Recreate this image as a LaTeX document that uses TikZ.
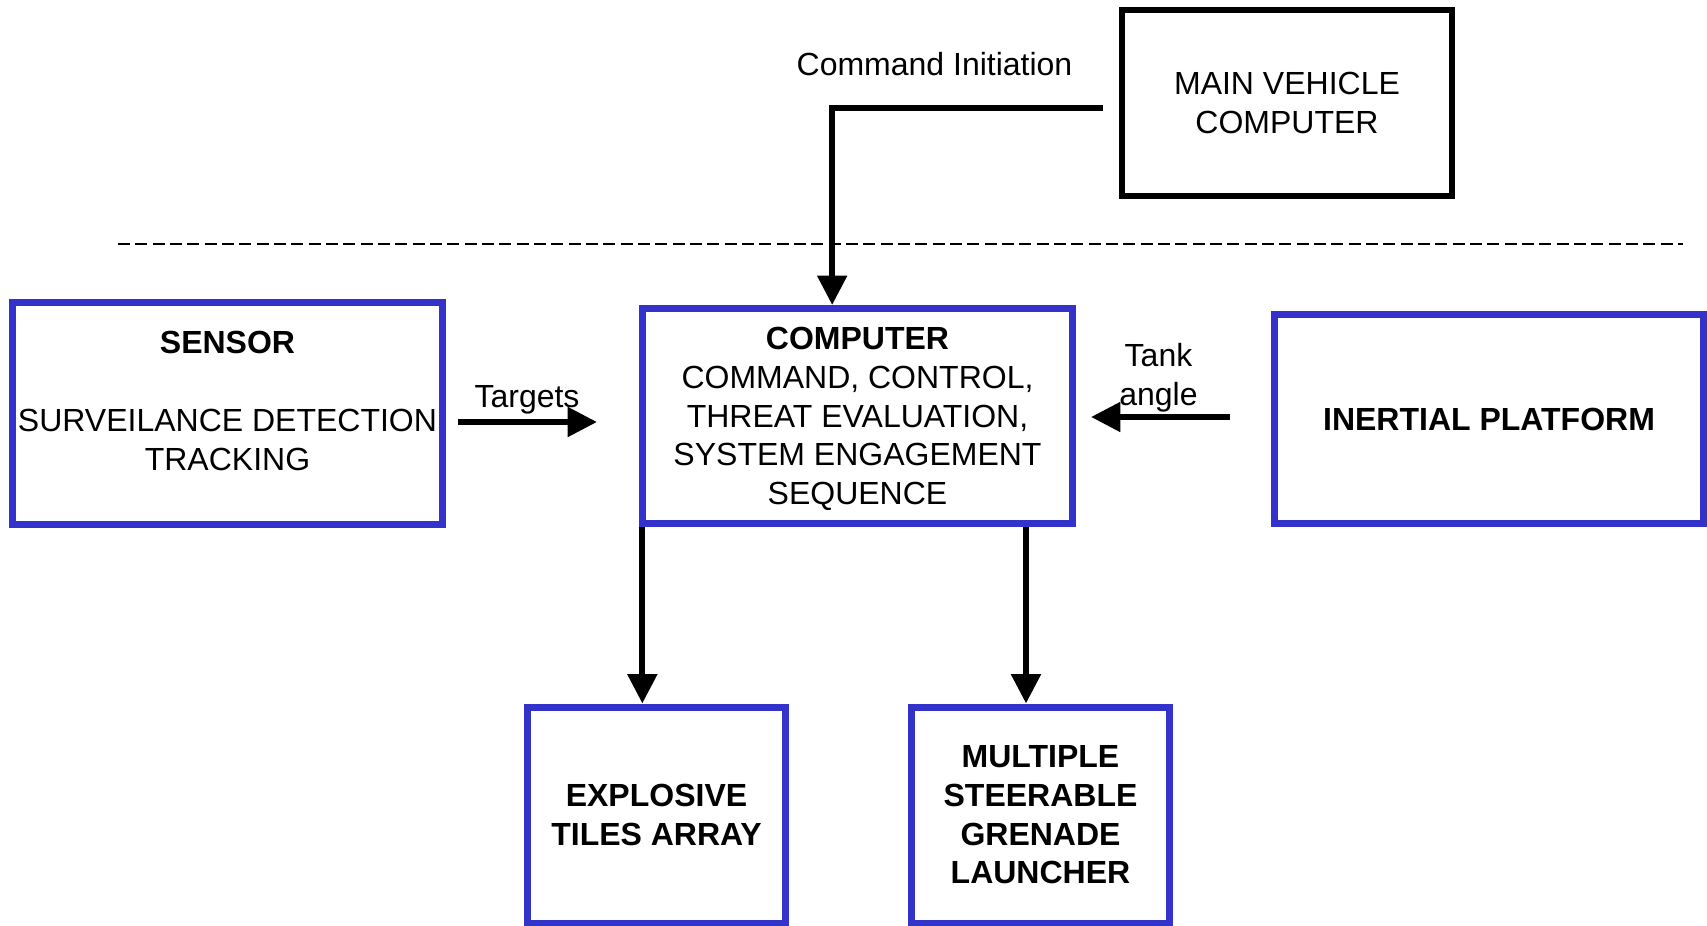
\documentclass[tikz,border=0pt]{standalone}
\usepackage{fontspec}
\setmainfont{Liberation Sans}
\usetikzlibrary{arrows.meta,positioning}
\definecolor{unitblue}{RGB}{51,51,204}

\begin{document}
\begin{tikzpicture}[
  x=0.75pt,y=-0.75pt,>={Triangle[length=22pt,width=21.5pt]},
  unit/.style={draw=unitblue,line width=5.25pt,align=center,
    font=\fontsize{24}{29}\selectfont,inner sep=0pt},
  weapon/.style={unit,font=\fontsize{24}{29}\selectfont\bfseries},
  hostbox/.style={unit,draw=black,line width=4.5pt},
  sig/.style={->,line width=4.5pt,line join=miter},
  lbl/.style={font=\fontsize{24}{29}\selectfont,align=center,inner sep=0pt}
]
\useasboundingbox (0,0) rectangle (1707,925);
\node[hostbox,minimum width=247.5pt,minimum height=139.5pt] (mvc) at (1287,103) {MAIN VEHICLE\\COMPUTER};
\node[unit,minimum width=322.5pt,minimum height=166.5pt,text depth=19.5pt] (sensor) at (227.5,413.5)
  {\textbf{SENSOR}\\[30pt]SURVEILANCE DETECTION\\TRACKING};
\node[unit,minimum width=322.5pt,minimum height=161.25pt,text depth=-7pt] (computer) at (857.5,416)
  {\textbf{COMPUTER}\\COMMAND, CONTROL,\\THREAT EVALUATION,\\SYSTEM ENGAGEMENT\\SEQUENCE};
\node[weapon,minimum width=321.75pt,minimum height=156.75pt] (inertial) at (1489,419) {INERTIAL PLATFORM};
\node[weapon,minimum width=193.5pt,minimum height=162pt] (tiles) at (656.5,815) {EXPLOSIVE\\TILES ARRAY};
\node[weapon,minimum width=193.5pt,minimum height=162pt] (grenade) at (1040.5,815) {MULTIPLE\\STEERABLE\\GRENADE\\LAUNCHER};
\node[lbl,anchor=base] (cmdtxt) at (934.5,75) {Command Initiation};
\node[lbl,anchor=base] (tgttxt) at (527,407) {Targets};
\node[lbl] (tanktxt) at (1158.5,377.5) {Tank\\angle};
% vehicle boundary
\draw[line width=1.5pt,dash pattern=on 9pt off 4pt] (118,244) -- (1683,244);
\coordinate (cmdOut) at ([xshift=-12pt,yshift=-4pt]mvc.west);
\coordinate (cmdIn) at ([xshift=-19pt]computer.north);
\coordinate (tgtFrom) at (458,422);
\coordinate (tgtTo) at (597,422);
\coordinate (tankFrom) at (1230,417);
\coordinate (tankTo) at (1091,417);
\coordinate (tilesOut) at ([xshift=2.5pt]computer.south west);
\coordinate (grenadeOut) at ([xshift=-37.5pt]computer.south east);
\draw[sig] (cmdOut) -| (cmdIn);
\draw[sig] (tgtFrom) -- (tgtTo);
\draw[sig] (tankFrom) -- (tankTo);
\draw[sig] (tilesOut) -- (tilesOut |- tiles.north);
\draw[sig] (grenadeOut) -- (grenadeOut |- grenade.north);
\end{tikzpicture}
\end{document}
